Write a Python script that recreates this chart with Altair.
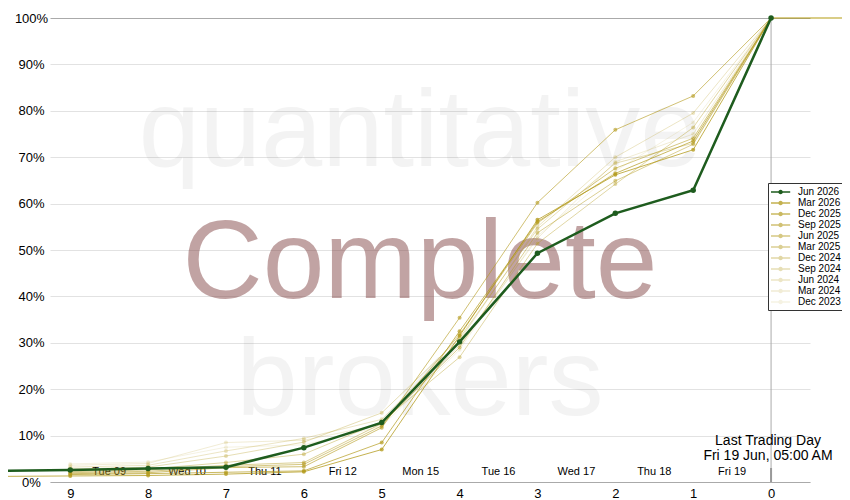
import altair as alt
import pandas as pd

# ---- data -----------------------------------------------------------------
days_to_expiry = [10, 9, 8, 7, 6, 5, 4, 3, 2, 1, 0]

series_names = ["Jun 2026", "Mar 2026", "Dec 2025", "Sep 2025", "Jun 2025", "Mar 2025",
                "Dec 2024", "Sep 2024", "Jun 2024", "Mar 2024", "Dec 2023"]

jun_2026 = [2.4, 2.6, 2.9, 3.2, 7.4, 12.8, 30.2, 49.3, 57.9, 62.9, 100.0]
mar_2026 = [1.2, 1.3, 1.4, 1.7, 2.2, 7.0, 31.5, 56.5, 66.2, 71.6, 100.0]
dec_2025 = [None, 1.6, 1.8, 2.1, 2.4, 8.5, 32.5, 56.1, 66.5, 73.5, 100.0]
sep_2025 = [None, 1.8, 2.0, 3.1, 3.3, 11.7, 35.4, 60.2, 75.9, 83.2, 100.0]
jun_2025 = [None, 2.0, 2.3, 3.3, 3.8, 12.1, 31.8, 55.8, 67.6, 74.1, 100.0]
mar_2025 = [None, 2.2, 2.6, 3.6, 4.2, 12.6, 29.0, 53.7, 64.9, 72.8, 100.0]
dec_2024 = [None, 2.4, 2.8, 4.2, 6.0, 13.0, 26.9, 51.4, 64.2, 76.4, 100.0]
sep_2024 = [None, 2.8, 3.2, 5.6, 8.6, 14.9, 31.0, 54.5, 68.7, 73.0, 100.0]
jun_2024 = [None, 3.2, 3.6, 6.7, 9.4, 13.5, 30.5, 55.0, 70.0, 79.5, 100.0]
mar_2024 = [None, 3.6, 4.0, 8.5, 9.0, 12.4, 29.5, 52.5, 69.0, 75.0, 100.0]
dec_2023 = [None, 3.9, 4.3, 7.5, 8.0, 12.0, 28.5, 53.0, 67.0, 77.5, 100.0]

all_series = [jun_2026, mar_2026, dec_2025, sep_2025, jun_2025, mar_2025,
              dec_2024, sep_2024, jun_2024, mar_2024, dec_2023]

# settled line after the last trading day
settled_days = [0, -1]
settled_pct = [100.0, 100.0]

date_labels = ["Tue 09", "Wed 10", "Thu 11", "Fri 12", "Mon 15",
               "Tue 16", "Wed 17", "Thu 18", "Fri 19"]
date_label_pos = [8.5, 7.5, 6.5, 5.5, 4.5, 3.5, 2.5, 1.5, 0.5]

y_ticks = [0, 10, 20, 30, 40, 50, 60, 70, 80, 90, 100]
x_ticks = [0, 1, 2, 3, 4, 5, 6, 7, 8, 9]
last_day = [0]
annotation = ["Last Trading Day", "Fri 19 Jun, 05:00 AM"]

# ---- styles ---------------------------------------------------------------
green = "#1e5c1e"
gold_alphas = [0.78, 0.7, 0.62, 0.55, 0.48, 0.4, 0.33, 0.26, 0.19, 0.13]
series_colors = [green] + [f"rgba(180,155,30,{a})" for a in gold_alphas]
FONT = "Liberation Sans"

rows = []
for name, vals in zip(series_names, all_series):
    for d, v in zip(days_to_expiry, vals):
        if v is not None:
            rows.append({"series": name, "days": d, "pct": v})
df = pd.DataFrame(rows)
df_green = df[df.series == "Jun 2026"]
df_gold = df[df.series != "Jun 2026"]
df_settled = pd.DataFrame({"days": settled_days, "pct": settled_pct})

x_scale = alt.Scale(domain=[9.26, -0.5], nice=False, zero=False)
y_scale = alt.Scale(domain=[0, 100], nice=False)
color_scale = alt.Scale(domain=series_names, range=series_colors)

x_enc = alt.X("days:Q", scale=x_scale,
              axis=alt.Axis(values=x_ticks, format="d", title=None, grid=False,
                            ticks=False, labelFontSize=13, labelPadding=5,
                            domainColor="#aaa", labelColor="#000"))
y_enc = alt.Y("pct:Q", scale=y_scale,
              axis=alt.Axis(values=y_ticks, labelExpr="datum.value + '%'", title=None,
                            domain=False, ticks=False, tickSize=0, labelAlign="center",
                            labelPadding=19, labelFontSize=13, labelColor="#000",
                            gridColor={"condition": {"test": "datum.value === 100", "value": "#aaa"},
                                       "value": "#e2e2e2"}))

sym_path = ("M-1,-0.12L2.2,-0.12L2.2,0.12L-1,0.12Z "
            "M0.98,0A0.38,0.38 0 1 1 0.22,0A0.38,0.38 0 1 1 0.98,0Z")
legend = alt.Legend(title=None, orient="none", legendX=718, legendY=165,
                    symbolType=sym_path, symbolSize=144, labelFontSize=10,
                    labelOffset=15, rowPadding=0, padding=3, strokeColor="#333",
                    fillColor="white", labelColor="#000", labelFont=FONT,
                    symbolStrokeWidth=0, symbolOpacity=1)
color_enc = alt.Color("series:N", scale=color_scale, legend=legend)

def watermark(word, y, size, color, opacity):
    return alt.Chart(pd.DataFrame({"w": [word]})).mark_text(
        fontSize=size, font=FONT, color=color, opacity=opacity,
        align="center", baseline="alphabetic"
    ).encode(text="w:N", x=alt.value(370), y=alt.value(y))

wm1 = watermark("quantitative", 148, 110, "#808080", 0.09)
wm2 = watermark("Complete", 280, 111, "#804040", 0.48)
wm3 = watermark("brokers", 397, 110, "#808080", 0.09)

rule0 = alt.Chart(pd.DataFrame({"days": last_day})).mark_rule(
    color="#aaa", strokeWidth=1).encode(x=alt.X("days:Q", scale=x_scale))
rule0_tick = alt.Chart(pd.DataFrame({"days": last_day})).mark_rule(
    color="#999", strokeWidth=2).encode(x=alt.X("days:Q", scale=x_scale),
                                         y=alt.value(450), y2=alt.value(464))

dates = alt.Chart(pd.DataFrame({"days": date_label_pos, "lab": date_labels})).mark_text(
    fontSize=11, font=FONT, color="#000", baseline="middle", align="center"
).encode(x=alt.X("days:Q", scale=x_scale), y=alt.value(454), text="lab:N")

annot = alt.Chart(pd.DataFrame({"a": [0]})).mark_text(
    fontSize=14, font=FONT, color="#000", align="center", baseline="alphabetic",
    lineHeight=15
).encode(x=alt.value(718), y=alt.value(427), text=alt.value(annotation))

settled = alt.Chart(df_settled).mark_line(strokeWidth=1.2, color="#b39b10").encode(
    x=alt.X("days:Q", scale=x_scale), y=alt.Y("pct:Q", scale=y_scale))
gold_lines = alt.Chart(df_gold).mark_line(strokeWidth=1).encode(x=x_enc, y=y_enc, color=color_enc)
gold_pts = alt.Chart(df_gold).mark_point(filled=True, size=16, opacity=1).encode(
    x=x_enc, y=y_enc, color=color_enc)
green_line = alt.Chart(df_green).mark_line(strokeWidth=2.5).encode(x=x_enc, y=y_enc, color=color_enc)
green_pts = alt.Chart(df_green).mark_point(filled=True, size=30, opacity=1).encode(
    x=x_enc, y=y_enc, color=color_enc)

chart = alt.layer(
    wm1, wm2, wm3, rule0, rule0_tick, dates, annot,
    settled, gold_lines, gold_pts, green_line, green_pts
).properties(
    width=760, height=464,
    autosize=alt.AutoSizeParams(type="none"),
    padding={"left": 42, "top": 10, "right": 32, "bottom": 20},
    background="white"
).configure(font=FONT).configure_view(stroke=None)

chart.save("out.html", embed_options={"renderer": "svg", "actions": False})
